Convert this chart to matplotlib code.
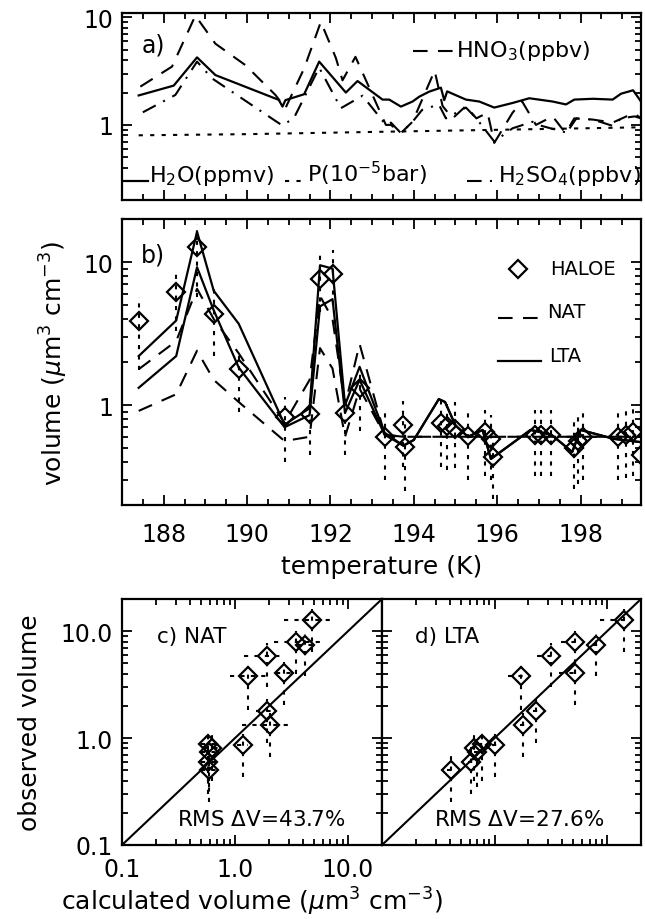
import numpy as np
import matplotlib.pyplot as plt
from matplotlib.ticker import FixedLocator, FixedFormatter, MultipleLocator, LogLocator, NullFormatter

plt.rcParams["font.family"] = ["DejaVu Sans"]
plt.rcParams["mathtext.fontset"] = "dejavusans"

# ---- panel a: gas-phase / pressure along the track ----
t_h2o = [187.4, 188.24, 188.8, 189.24, 190.76, 190.85, 190.92, 191.37, 191.73, 192.37, 192.65,
         193.25, 193.41, 193.69, 193.97, 194.13, 194.37, 194.65, 194.73, 194.8, 195.25, 195.57,
         195.93, 196.37, 196.77, 197.33, 197.65, 197.85, 198.3, 198.77, 198.97, 199.26, 199.45]
v_h2o = [1.88, 2.32, 4.25, 2.91, 1.71, 1.48, 1.70, 1.93, 3.88, 2.0, 2.56,
         1.72, 1.72, 1.48, 1.65, 1.83, 2.04, 2.22, 1.70, 2.05, 1.72, 1.65,
         1.45, 1.6, 1.77, 1.65, 1.55, 1.72, 1.75, 1.72, 1.95, 2.1, 1.65]

t_h2so4 = [187.5, 188.28, 188.8, 189.16, 190.84, 191.12, 191.73, 192.25, 192.77, 193.33, 193.45,
           193.69, 193.97, 194.2, 194.6, 194.77, 195.25, 195.5, 195.93, 196.37, 196.85, 196.98,
           197.65, 197.85, 198.3, 198.77, 198.97, 199.3, 199.45]
v_h2so4 = [1.31, 1.9, 3.88, 2.71, 0.99, 1.15, 3.41, 1.43, 1.87, 1.0, 1.05,
           0.84, 1.07, 1.38, 1.55, 1.15, 1.45, 1.15, 0.70, 0.93, 1.07, 1.0,
           0.85, 1.15, 1.12, 0.98, 1.15, 1.2, 1.15]

t_hno3 = [187.44, 188.2, 188.76, 189.24, 189.96, 190.68, 190.92, 191.37, 191.77, 192.13, 192.29,
          192.6, 193.33, 193.45, 193.69, 193.97, 194.5, 194.69, 194.93, 195.25, 195.5, 195.77,
          195.93, 196.37, 196.6, 196.93, 197.33, 197.65, 197.9, 198.3, 198.77, 199.1, 199.3, 199.45]
v_hno3 = [2.27, 3.49, 10.4, 5.7, 3.6, 1.9, 1.43, 3.36, 9.1, 4.2, 2.6,
          4.3, 1.0, 1.0, 0.84, 1.07, 3.2, 1.5, 1.15, 1.5, 1.15, 1.3,
          0.68, 1.3, 1.65, 1.0, 1.2, 0.83, 1.15, 1.12, 1.05, 1.2, 1.27, 1.15]

t_p = [187.4, 190.0, 193.0, 196.0, 199.45]
v_p = [0.80, 0.82, 0.86, 0.90, 0.95]

# ---- panel b: HALOE volumes and model runs ----
t_haloe = [187.4, 188.3, 188.8, 189.2, 189.8, 190.9, 191.5, 191.75, 192.05, 192.35, 192.7, 193.3,
           193.75, 193.8, 194.65, 194.8, 195.0, 195.3, 195.7, 195.85, 195.9, 196.9, 197.05, 197.3,
           197.85, 197.95, 198.05, 198.9, 199.1, 199.25, 199.45]
v_haloe = [3.85, 6.2, 12.8, 4.3, 1.8, 0.82, 0.86, 7.6, 8.2, 0.88, 1.32, 0.6,
           0.73, 0.51, 0.75, 0.71, 0.68, 0.61, 0.65, 0.58, 0.43, 0.62, 0.62, 0.62,
           0.5, 0.56, 0.6, 0.6, 0.62, 0.65, 0.45]
haloe_lo = [1.75, 3.3, 5.7, 2.2, 0.9, 0.40, 0.45, 4.5, 5.0, 0.45, 0.66, 0.30,
            0.37, 0.25, 0.37, 0.35, 0.36, 0.30, 0.32, 0.30, 0.22, 0.32, 0.32, 0.32,
            0.26, 0.28, 0.30, 0.30, 0.31, 0.32, 0.25]
haloe_hi = [5.7, 8.7, 18.6, 6.7, 2.4, 1.13, 1.15, 11.4, 12.1, 1.1, 1.75, 0.88,
            1.07, 0.75, 1.07, 1.02, 1.05, 0.92, 0.93, 0.85, 0.6, 0.92, 0.92, 0.92,
            0.8, 0.82, 0.9, 0.9, 0.92, 0.95, 0.7]

t_mod = [187.4, 188.3, 188.8, 189.2, 189.8, 190.9, 191.5, 191.75, 192.05, 192.35, 192.7, 193.3,
         193.75, 194.0, 194.6, 194.75, 195.0, 195.3, 195.65, 195.85, 196.8, 197.3, 197.8, 198.0,
         198.8, 199.45]
lta_hi = [2.2, 3.9, 16.3, 6.3, 3.7, 0.73, 0.95, 9.5, 9.0, 1.0, 1.85, 0.64,
          0.52, 0.57, 1.1, 1.05, 0.72, 0.60, 0.67, 0.42, 0.67, 0.62, 0.47, 0.67,
          0.58, 0.55]
lta_lo = [1.32, 2.2, 9.2, 4.6, 1.83, 0.70, 0.85, 4.9, 5.5, 0.88, 1.5, 0.62,
          0.52, 0.57, 1.1, 1.05, 0.72, 0.60, 0.67, 0.42, 0.67, 0.62, 0.47, 0.67,
          0.58, 0.55]
nat_hi = [1.78, 2.8, 6.5, 4.0, 2.3, 0.75, 1.5, 5.8, 4.0, 1.0, 2.67, 0.62,
          0.6, 0.6, 0.6, 0.6, 0.6, 0.6, 0.6, 0.6, 0.6, 0.6, 0.6, 0.6,
          0.6, 0.6]
nat_lo = [0.91, 1.19, 2.4, 1.5, 1.05, 0.56, 0.6, 2.5, 1.8, 0.6, 1.3, 0.62,
          0.6, 0.6, 0.6, 0.6, 0.6, 0.6, 0.6, 0.6, 0.6, 0.6, 0.6, 0.6,
          0.6, 0.6]

# ---- panels c, d: observed vs calculated ----
obs = [0.89, 0.74, 0.60, 0.50, 0.80, 0.86, 3.8, 1.8, 1.33, 5.9, 4.1, 7.9, 7.5, 12.7]
obs_lo = [0.40, 0.35, 0.30, 0.25, 0.40, 0.43, 1.85, 0.9, 0.67, 3.0, 2.05, 4.0, 3.8, 6.4]
obs_hi = [1.2, 1.0, 0.85, 0.7, 1.1, 1.1, 4.7, 2.3, 1.7, 7.8, 5.2, 10.0, 9.5, 16.0]
calc_nat = [0.58, 0.59, 0.58, 0.59, 0.62, 1.17, 1.31, 1.91, 2.04, 1.93, 2.71, 3.47, 4.17, 4.8]
nat_x_lo = [0.5, 0.5, 0.5, 0.5, 0.52, 1.05, 0.9, 1.55, 1.15, 1.2, 2.3, 2.2, 3.6, 2.7]
nat_x_hi = [0.68, 0.68, 0.68, 0.68, 0.72, 1.3, 1.9, 2.35, 2.95, 2.6, 3.2, 5.6, 5.0, 6.9]
calc_lta = [0.77, 0.70, 0.62, 0.41, 0.65, 1.0, 1.73, 2.34, 1.79, 3.2, 5.2, 5.2, 7.95, 14.0]
lta_x_lo = [0.72, 0.66, 0.58, 0.38, 0.6, 0.95, 1.32, 2.2, 1.7, 2.4, 3.7, 3.9, 7.5, 8.7]
lta_x_hi = [0.82, 0.74, 0.66, 0.44, 0.7, 1.05, 1.98, 2.5, 1.9, 3.3, 5.5, 5.5, 8.4, 14.5]

W, H = 645, 920
DASH = (0, (7, 5))
DASHDOT = (0, (7, 4, 1, 4))
DOT = (0, (2, 3.5))
EDOT = (0, (2, 3))


def fx(px):
    return px / W


def fy(py):
    return 1 - py / H


def add_ax(x0, x1, y0, y1):
    return fig.add_axes([fx(x0), fy(y1), (x1 - x0) / W, (y1 - y0) / H])


def style(ax, labelsize=17):
    ax.tick_params(which="both", direction="in", top=True, right=True, width=1.3)
    ax.tick_params(which="major", length=7.5, labelsize=labelsize)
    ax.tick_params(which="minor", length=4)
    for s in ax.spines.values():
        s.set_linewidth(1.6)


def seg(x1, x2, y, **kw):
    fig.add_artist(plt.Line2D([fx(x1), fx(x2)], [fy(y), fy(y)], transform=fig.transFigure, **kw))


fig = plt.figure(figsize=(W / 100, H / 100), dpi=100)

# panel a
ax_a = add_ax(122, 641, 14, 201)
ax_a.set_yscale("log")
ax_a.plot(t_h2o, v_h2o, color="black", lw=1.6)
ax_a.plot(t_h2so4, v_h2so4, color="black", lw=1.5, linestyle=DASHDOT)
ax_a.plot(t_hno3, v_hno3, color="black", lw=1.5, linestyle=DASH)
ax_a.plot(t_p, v_p, color="black", lw=1.5, linestyle=DOT)
ax_a.set_xlim(187.0, 199.45)
ax_a.set_ylim(0.2, 11)
ax_a.yaxis.set_major_locator(FixedLocator([1, 10]))
ax_a.yaxis.set_major_formatter(FixedFormatter(["1", "10"]))
ax_a.yaxis.set_minor_locator(LogLocator(base=10, subs=np.arange(2, 10)))
ax_a.yaxis.set_minor_formatter(NullFormatter())
ax_a.xaxis.set_major_locator(MultipleLocator(2))
ax_a.xaxis.set_minor_locator(MultipleLocator(0.5))
ax_a.set_xticklabels([])
style(ax_a)
ax_a.tick_params(axis="y", pad=6)

# panel b
ax_b = add_ax(122, 641, 220, 506)
ax_b.set_yscale("log")
ax_b.vlines(t_haloe, haloe_lo, haloe_hi, colors="black", linewidth=1.5, linestyles=[EDOT])
ax_b.plot(t_mod, nat_hi, color="black", lw=1.5, linestyle=DASH)
ax_b.plot(t_mod, nat_lo, color="black", lw=1.5, linestyle=DASH)
ax_b.plot(t_mod, lta_hi, color="black", lw=1.6)
ax_b.plot(t_mod, lta_lo, color="black", lw=1.6)
ax_b.plot(t_haloe, v_haloe, linestyle="none", marker="D", ms=9, mfc="none", mec="black", mew=1.6)
ax_b.set_xlim(187.0, 199.45)
ax_b.set_ylim(0.2, 20)
ax_b.yaxis.set_major_locator(FixedLocator([1, 10]))
ax_b.yaxis.set_major_formatter(FixedFormatter(["1", "10"]))
ax_b.yaxis.set_minor_locator(LogLocator(base=10, subs=np.arange(2, 10)))
ax_b.yaxis.set_minor_formatter(NullFormatter())
ax_b.xaxis.set_major_locator(MultipleLocator(2))
ax_b.xaxis.set_minor_locator(MultipleLocator(0.5))
style(ax_b)
ax_b.tick_params(axis="y", pad=6)
ax_b.tick_params(axis="x", pad=12)


def scatter_panel(ax, calc, x_lo, x_hi):
    ax.set_xscale("log")
    ax.set_yscale("log")
    ax.plot([0.1, 20], [0.1, 20], color="black", lw=1.5)
    ax.vlines(calc, obs_lo, obs_hi, colors="black", linewidth=1.5, linestyles=[EDOT])
    ax.hlines(obs, x_lo, x_hi, colors="black", linewidth=1.5, linestyles=[EDOT])
    ax.plot(calc, obs, linestyle="none", marker="D", ms=9, mfc="none", mec="black", mew=1.6)
    ax.set_xlim(0.1, 20)
    ax.set_ylim(0.1, 20)
    for axis in (ax.xaxis, ax.yaxis):
        axis.set_major_locator(FixedLocator([0.1, 1, 10]))
        axis.set_minor_locator(LogLocator(base=10, subs=np.arange(2, 10)))
        axis.set_minor_formatter(NullFormatter())
    style(ax)


ax_c = add_ax(122, 382, 600, 846)
scatter_panel(ax_c, calc_nat, nat_x_lo, nat_x_hi)
ax_c.xaxis.set_major_formatter(FixedFormatter(["0.1", "1.0", "10.0"]))
ax_c.yaxis.set_major_formatter(FixedFormatter(["0.1", "1.0", "10.0"]))
ax_c.tick_params(axis="y", pad=7)
ax_c.tick_params(axis="x", pad=9)

ax_d = add_ax(382, 641, 600, 846)
scatter_panel(ax_d, calc_lta, lta_x_lo, lta_x_hi)
ax_d.set_xticklabels([])
ax_d.set_yticklabels([])

# legends and annotations
fig.text(fx(153), fy(46), "a)", fontsize=17, ha="center", va="center")
seg(413, 455, 52, color="black", lw=1.5, linestyle=DASH)
fig.text(fx(456), fy(57), r"HNO$_3$(ppbv)", fontsize=16, ha="left", va="baseline")
seg(123, 148, 182, color="black", lw=1.6)
fig.text(fx(149), fy(182), r"H$_2$O(ppmv)", fontsize=16, ha="left", va="baseline")
seg(285, 306, 182, color="black", lw=1.5, linestyle=DOT)
fig.text(fx(307), fy(182), r"P(10$^{-5}$bar)", fontsize=16, ha="left", va="baseline")
seg(467, 497, 182, color="black", lw=1.5, linestyle=DASHDOT)
fig.text(fx(498), fy(182), r"H$_2$SO$_4$(ppbv)", fontsize=16, ha="left", va="baseline")

fig.text(fx(153), fy(256), "b)", fontsize=17, ha="center", va="center")
fig.add_artist(plt.Line2D([fx(518)], [fy(270)], transform=fig.transFigure, linestyle="none",
                          marker="D", ms=9, mfc="none", mec="black", mew=1.6))
fig.text(fx(550), fy(270), "HALOE", fontsize=14, ha="left", va="center")
seg(498, 541, 319, color="black", lw=1.5, linestyle=DASH)
fig.text(fx(547), fy(313), "NAT", fontsize=14, ha="left", va="center")
seg(498, 541, 362, color="black", lw=1.6)
fig.text(fx(549), fy(357), "LTA", fontsize=14, ha="left", va="center")

fig.text(fx(54), fy(363), r"volume ($\mu$m$^3$ cm$^{-3}$)", fontsize=18, rotation=90,
         ha="center", va="center")
fig.text(fx(382), fy(567), "temperature (K)", fontsize=18, ha="center", va="center")

fig.text(fx(157), fy(637), "c) NAT", fontsize=15.5, ha="left", va="center")
fig.text(fx(261), fy(820), r"RMS $\Delta$V=43.7%", fontsize=15.5, ha="center", va="center")
fig.text(fx(415), fy(637), "d) LTA", fontsize=15.5, ha="left", va="center")
fig.text(fx(519), fy(820), r"RMS $\Delta$V=27.6%", fontsize=15.5, ha="center", va="center")

fig.text(fx(30), fy(723), "observed volume", fontsize=18, rotation=90, ha="center", va="center")
fig.text(fx(252), fy(902), r"calculated volume ($\mu$m$^3$ cm$^{-3}$)", fontsize=18,
         ha="center", va="center")

fig.savefig("out.png", dpi=100)
